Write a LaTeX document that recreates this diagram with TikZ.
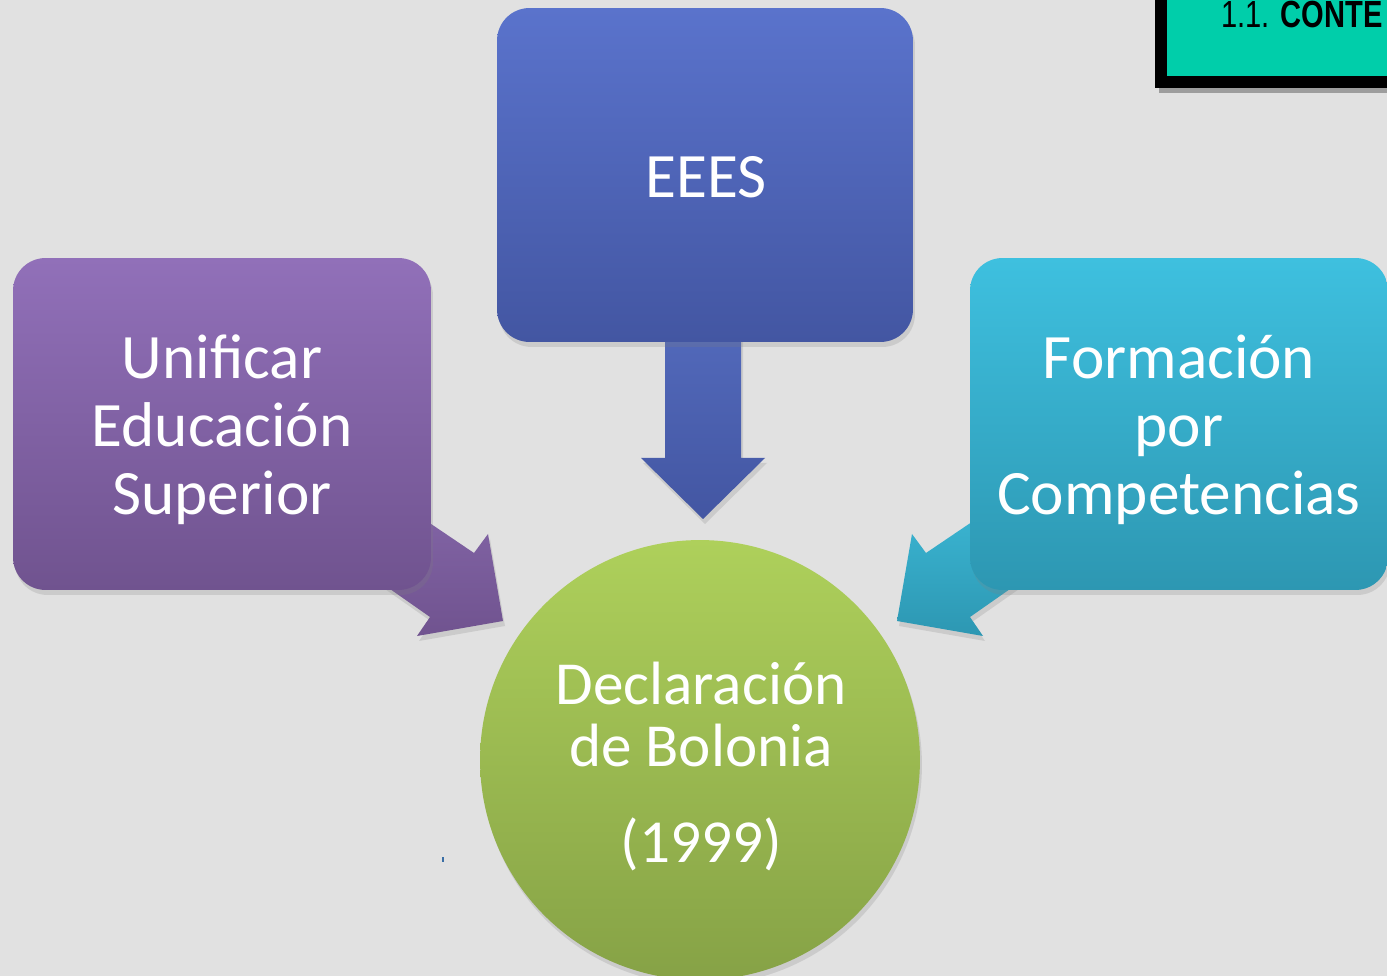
\documentclass[tikz,border=0pt]{standalone}
\usepackage{fontspec}
\setmainfont{Carlito}
\newfontfamily\narrowfont[FakeStretch=0.77]{Liberation Sans}
\usetikzlibrary{shadows}
\definecolor{bg}{HTML}{E1E1E1}
\definecolor{blueT}{HTML}{5A73CC}
\definecolor{blueB}{HTML}{4356A2}
\definecolor{purT}{HTML}{9170B9}
\definecolor{purB}{HTML}{70538F}
\definecolor{tealT}{HTML}{3EC0DF}
\definecolor{tealB}{HTML}{2D97B2}
\definecolor{grnT}{HTML}{AED05B}
\definecolor{grnB}{HTML}{86A246}
\definecolor{hdrteal}{HTML}{00CEAA}
\definecolor{dotblue}{HTML}{3A6EA5}
\tikzset{
  boxshape/.style={rounded corners=0.65cm, inner sep=0pt,
    drop shadow={opacity=0.22, shadow xshift=0.04cm, shadow yshift=-0.1cm}},
  boxtext/.style={inner sep=0pt, align=center, text=white, font=\fontsize{36}{38.7}\selectfont},
  arrowshape/.style={drop shadow={opacity=0.22, shadow xshift=0.04cm, shadow yshift=-0.1cm}}
}
\begin{document}
\begin{tikzpicture}[x=0.02cm,y=-0.02cm]
\useasboundingbox (0,0) rectangle (1387,976);
\clip (0,0) rectangle (1387,976);
\fill[bg] (0,0) rectangle (1387,976);

% header box (top right)
\fill[black, opacity=0.3] (1159,-10) rectangle (1400,93);
\fill[black] (1155,-10) rectangle (1400,88);
\fill[hdrteal] (1167,-10) rectangle (1400,76);
\node[anchor=base west, inner sep=0pt, font=\narrowfont\fontsize{21.5}{23}\selectfont] (hdr) at (1221,28) {1.1. \textbf{CONTE}};

% block arrows (behind boxes)
\path[arrowshape, top color=blueT!92!black, bottom color=blueB] (665,320) -- (741,320) -- (741,458) -- (765,458) -- (703,519) -- (641,458) -- (665,458) -- cycle;
\path[arrowshape, top color=purT!90!black, bottom color=purB] (400,503) -- (474,553) -- (488,534) -- (503,621) -- (417,636) -- (430,617) -- (370,575) -- cycle;
\path[arrowshape, top color=tealT!95!black, bottom color=tealB] (1000,503) -- (926,553) -- (912,534) -- (897,621) -- (983,636) -- (970,617) -- (1030,575) -- cycle;

% boxes
\node[boxshape, top color=blueT, bottom color=blueB, minimum width=8.32cm, minimum height=6.68cm] (eees) at (705,175) {};
\node[boxtext] (eeesT) at (706,177) {EEES};
\node[boxshape, top color=purT, bottom color=purB, minimum width=8.36cm, minimum height=6.64cm] (unif) at (222,424) {};
\node[boxtext] (unifT) at (222,430) {Unificar\\Educación\\Superior};
\node[boxshape, top color=tealT, bottom color=tealB, minimum width=8.36cm, minimum height=6.64cm] (form) at (1179,424) {};
\node[boxtext] (formT) at (1179,430) {Formación\\por\\Competencias};

% circle
\node[circle, inner sep=0pt, minimum size=8.8cm, top color=grnT, bottom color=grnB,
  drop shadow={opacity=0.22, shadow xshift=0.04cm, shadow yshift=-0.1cm}] (decl) at (700,760) {};
\node[inner sep=0pt, text=white, align=center, font=\fontsize{34.8}{35}\selectfont] (declT) at (701,767) {Declaración\\de Bolonia\\[0.7cm](1999)};

% tiny mark
\fill[dotblue] (442,857) rectangle (444,862);
\end{tikzpicture}
\end{document}
